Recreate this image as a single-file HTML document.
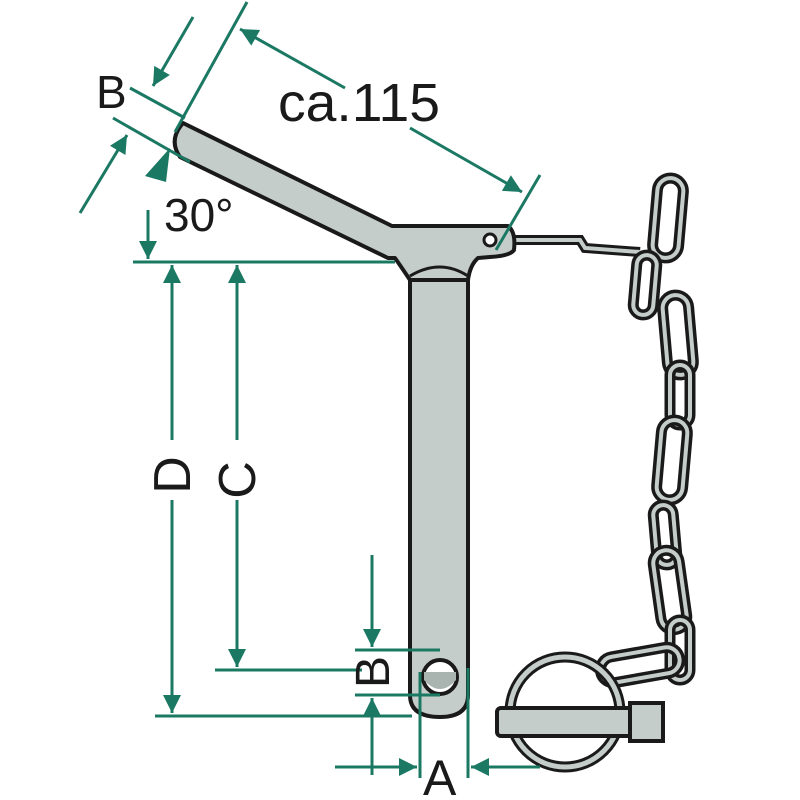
<!DOCTYPE html>
<html><head><style>body{margin:0;background:#fff}svg{display:block}</style></head>
<body>
<svg width="800" height="800" viewBox="0 0 800 800" xmlns="http://www.w3.org/2000/svg">
<defs>
<marker id="ah" viewBox="0 0 10 10" refX="10" refY="5" markerWidth="9" markerHeight="6" orient="auto" markerUnits="strokeWidth">
<path d="M0,0 L10,5 L0,10z" fill="#1b7863"/></marker>
<g id="link"><rect x="-13" y="-40" width="26" height="80" rx="13" fill="none" stroke="#1a1a1a" stroke-width="11"/><rect x="-13" y="-40" width="26" height="80" rx="13" fill="none" stroke="#c5cdca" stroke-width="4"/></g>
<g id="slink"><rect x="-10" y="-30" width="20" height="60" rx="10" fill="none" stroke="#1a1a1a" stroke-width="11"/><rect x="-10" y="-30" width="20" height="60" rx="10" fill="none" stroke="#c5cdca" stroke-width="4"/></g>
</defs>

<!-- chain -->
<path d="M505,240 L580,240 L585,248 L640,252" fill="none" stroke="#1a1a1a" stroke-width="10"/>
<path d="M505,240 L580,240 L585,248 L640,252" fill="none" stroke="#c5cdca" stroke-width="4"/>
<use href="#link" transform="translate(668,218) rotate(5)"/>
<use href="#slink" transform="translate(645,285) rotate(5)"/>
<use href="#link" transform="translate(678,335) rotate(-5)"/>
<use href="#slink" transform="translate(680,395) rotate(0)"/>
<use href="#link" transform="translate(672,460) rotate(5)"/>
<use href="#slink" transform="translate(665,535) rotate(-5)"/>
<use href="#link" transform="translate(670,590) rotate(-8)"/>
<use href="#slink" transform="translate(680,650) rotate(0)"/>
<use href="#link" transform="translate(640,665) rotate(80)"/>

<!-- ring -->
<circle cx="565" cy="712" r="55" fill="none" stroke="#1a1a1a" stroke-width="11"/>
<circle cx="565" cy="712" r="55" fill="none" stroke="#c5cdca" stroke-width="5"/>
<rect x="497" y="708" width="150" height="28" rx="4" fill="#c5cdca" stroke="#1a1a1a" stroke-width="4"/>
<rect x="630" y="703" width="33" height="38" fill="#c5cdca" stroke="#1a1a1a" stroke-width="4"/>

<!-- pin -->
<path d="M410,268 L410,695 Q410,717 440,717 Q468,717 468,695 L468,268 Z" fill="#c5cdca" stroke="#1a1a1a" stroke-width="4"/>
<path d="M183,123 L392,226 L508,226 Q516,232 514,250 Q510,256 490,257 L478,258 Q470,265 468,280 L410,280 Q402,268 395,258 L388,258 L180,157 Q168,140 183,123Z" fill="#c5cdca" stroke="#1a1a1a" stroke-width="4" stroke-linejoin="round"/>
<path d="M410,276 Q440,258 468,276" fill="none" stroke="#1a1a1a" stroke-width="3"/>
<circle cx="490" cy="240" r="6" fill="#fff" stroke="#1a1a1a" stroke-width="3"/>
<circle cx="440" cy="677" r="17" fill="#fff" stroke="#1a1a1a" stroke-width="4"/>
<path d="M424,680 Q440,698 456,680 L456,672 L424,672Z" fill="#a9b3af"/>

<!-- dimension lines -->
<g stroke="#1b7863" stroke-width="3" fill="none">
<line x1="133" y1="262" x2="395" y2="262"/>
<line x1="215" y1="670" x2="362" y2="670"/>
<line x1="155" y1="716" x2="412" y2="716"/>
<line x1="355" y1="650" x2="440" y2="650"/>
<line x1="355" y1="695" x2="440" y2="695"/>
<line x1="420" y1="672" x2="420" y2="778"/>
<line x1="468" y1="668" x2="468" y2="778"/>
<line x1="172" y1="440" x2="172" y2="265" marker-end="url(#ah)"/>
<line x1="172" y1="500" x2="172" y2="713" marker-end="url(#ah)"/>
<line x1="237" y1="440" x2="237" y2="265" marker-end="url(#ah)"/>
<line x1="237" y1="500" x2="237" y2="667" marker-end="url(#ah)"/>
<line x1="372" y1="555" x2="372" y2="647" marker-end="url(#ah)"/>
<line x1="372" y1="775" x2="372" y2="698" marker-end="url(#ah)"/>
<line x1="335" y1="767" x2="417" y2="767" marker-end="url(#ah)"/>
<line x1="540" y1="767" x2="471" y2="767" marker-end="url(#ah)"/>
<line x1="148" y1="210" x2="148" y2="259" marker-end="url(#ah)"/>
<line x1="247" y1="2" x2="175" y2="132"/>
<line x1="130" y1="88" x2="185" y2="118"/>
<line x1="113" y1="118" x2="190" y2="162"/>
<line x1="193" y1="17" x2="153" y2="86" marker-end="url(#ah)"/>
<line x1="80" y1="213" x2="127" y2="135" marker-end="url(#ah)"/>
<line x1="345" y1="88" x2="240" y2="29" marker-end="url(#ah)"/>
<line x1="410" y1="128" x2="522" y2="192" marker-end="url(#ah)"/>
<line x1="540" y1="175" x2="496" y2="250"/>
</g>
<polygon points="145,176 170,148 166,182" fill="#1b7863"/>

<!-- labels -->
<g font-family="Liberation Sans, sans-serif" fill="#1a1a1a">
<text x="96" y="108" font-size="46">B</text>
<text x="278" y="121" font-size="54" textLength="162" lengthAdjust="spacingAndGlyphs">ca.115</text>
<text x="164" y="231" font-size="46">30°</text>
<text x="423" y="795" font-size="50">A</text>
<text transform="translate(190,475) rotate(-90)" font-size="52" text-anchor="middle">D</text>
<text transform="translate(255,480) rotate(-90)" font-size="52" text-anchor="middle">C</text>
<text transform="translate(389,672) rotate(-90)" font-size="48" text-anchor="middle">B</text>
</g>
</svg>
</body></html>
